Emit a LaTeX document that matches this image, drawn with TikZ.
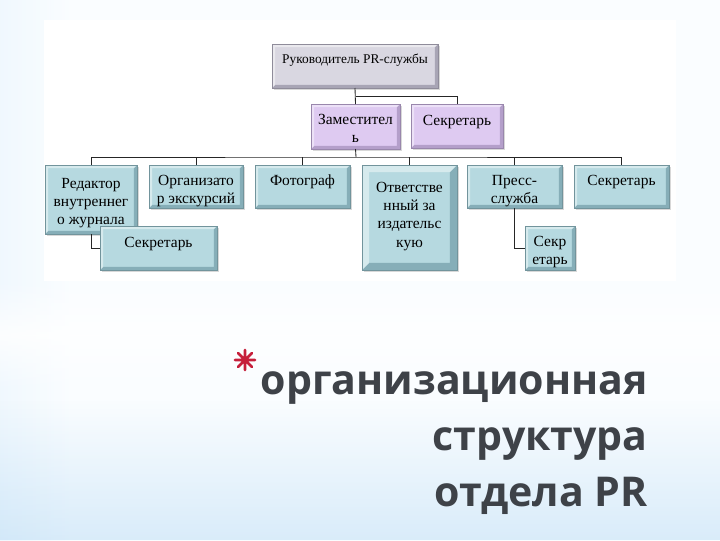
\documentclass[tikz,border=0pt]{standalone}
\usepackage{fontspec}
\setmainfont{Liberation Serif}
\newfontfamily\titlefont{Open Sans}
\usetikzlibrary{positioning, shadows, fadings}

\definecolor{bgedge}{HTML}{9CCCF0}
\definecolor{bgsoft}{HTML}{D2E9F9}
\definecolor{bgmid}{HTML}{FAFDFF}
\definecolor{tealface}{HTML}{B6D9E0}
\definecolor{tealdark}{HTML}{86AEB8}
\definecolor{lilacface}{HTML}{DECAF1}
\definecolor{lilacdark}{HTML}{B49FCA}
\definecolor{greyface}{HTML}{D9D7E1}
\definecolor{greydark}{HTML}{A8A5B5}
\definecolor{titlegrey}{HTML}{3E4248}
\definecolor{starred}{HTML}{C61F3B}

\pgfdeclarehorizontalshading{bgshade}{100bp}{color(0bp)=(bgedge); color(10bp)=(bgsoft);
  color(30bp)=(bgmid); color(75bp)=(bgmid); color(92bp)=(bgsoft); color(100bp)=(bgedge)}
\tikzfading[name=fade band, top color=transparent!100, bottom color=transparent!100, middle color=transparent!0]
\tikzfading[name=fade up, top color=transparent!100, bottom color=transparent!0]

\newcommand{\boxfont}{\fontsize{11}{13}\selectfont}

\tikzset{
  bevel width/.store in=\bevw, bevel width=2.2pt,
  bevel color/.store in=\bevcol, bevel color=tealdark,
  boxsize/.style 2 args={minimum width=#1*0.025cm, minimum height=#2*0.025cm},
  orgbox/.style={anchor=north west, inner sep=0pt, outer sep=0pt, line width=.4pt,
    drop shadow={shadow xshift=1.2pt, shadow yshift=-1.2pt, opacity=.3},
    path picture={
      \fill[\bevcol] (path picture bounding box.south west) -- (path picture bounding box.south east)
        -- (path picture bounding box.north east) -- ([shift={(-\bevw,-\bevw)}]path picture bounding box.north east)
        -- ([shift={(-\bevw,\bevw)}]path picture bounding box.south east) -- ([shift={(\bevw,\bevw)}]path picture bounding box.south west) -- cycle;
      \fill[white, opacity=.45] (path picture bounding box.south west) -- (path picture bounding box.north west)
        -- (path picture bounding box.north east) -- ([shift={(-\bevw,-\bevw)}]path picture bounding box.north east)
        -- ([shift={(\bevw,-\bevw)}]path picture bounding box.north west) -- ([shift={(\bevw,\bevw)}]path picture bounding box.south west) -- cycle;
    }},
  tealbox/.style={orgbox, fill=tealface, draw=tealdark!85!black, bevel color=tealdark},
  lilacbox/.style={orgbox, fill=lilacface, draw=lilacdark!85!black, bevel color=lilacdark},
  greybox/.style={orgbox, fill=greyface, draw=greydark!85!black, bevel color=greydark},
  lbl/.style={anchor=north, yshift=-7pt, align=center, inner sep=0pt, font=\boxfont},
  link/.style={draw=black!85, line width=.6pt},
}

\begin{document}
\begin{tikzpicture}[x=0.025cm, y=-0.025cm]
  \useasboundingbox (0,0) rectangle (720,540);

  % фон
  \shade[shading=bgshade] (0,0) rectangle (720,540);
  \fill[bgedge, opacity=.35, path fading=fade up] (0,400) rectangle (720,540);
  \fill[white, opacity=.8, path fading=fade band] (0,280) rectangle (720,390);
  \fill[white] (44,20) rectangle (676,281);

  % уровень 1 и 2
  \node[greybox, boxsize={166}{44}, label={[lbl, font=\fontsize{9.5}{12}\selectfont]north:Руководитель PR-службы}] (head) at (272,44) {};
  \node[lilacbox, boxsize={89}{45}, label={[lbl]north:Заместител\\ь}] (zam) at (311,104) {};
  \node[lilacbox, boxsize={92}{44}, label={[lbl, yshift=-1pt]north:Секретарь}] (sec0) at (411,104) {};

  % уровень 3
  \node[tealbox, boxsize={92}{69}, label={[lbl, yshift=-2pt]north:Редактор\\внутреннег\\о журнала}] (red) at (45,165) {};
  \node[tealbox, boxsize={94}{43}, label={[lbl]north:Организато\\р экскурсий}] (org) at (149,165) {};
  \node[tealbox, boxsize={95}{43}, label={[lbl]north:Фотограф}] (foto) at (255,165) {};
  \node[tealbox, boxsize={95}{105}, bevel width=5pt, label={[lbl, yshift=-5pt]north:Ответстве\\нный за\\издательс\\кую}] (otv) at (362,165) {};
  \node[tealbox, boxsize={95}{43}, label={[lbl]north:Пресс-\\служба}] (press) at (467,165) {};
  \node[tealbox, boxsize={95}{43}, label={[lbl]north:Секретарь}] (sec1) at (574,165) {};

  % подчинённые
  \node[tealbox, boxsize={117}{44}, label={[lbl, yshift=-1pt]north:Секретарь}] (sec2) at (100,226) {};
  \node[tealbox, boxsize={50}{44}, label={[lbl]north:Секр\\етарь}] (sec3) at (525,226) {};

  % связи
  \coordinate (fork) at (356,96);
  \coordinate (bus) at (356,157);
  \draw[link] (head.south) -- (zam.north);
  \draw[link] (fork) -| (sec0.north);
  \draw[link] (zam.south) -- (bus);
  \draw[link] (red.north) |- (bus) -| (sec1.north);
  \draw[link] (org.north) -- (org.north |- bus);
  \draw[link] (foto.north) -- (foto.north |- bus);
  \draw[link] (otv.north) -- (otv.north |- bus);
  \draw[link] (press.north) -- (press.north |- bus);
  \draw[link] (red.south) |- (sec2.west);
  \draw[link] (press.south) |- (sec3.west);

  % звёздочка
  \draw[starred, line width=1.8pt, line cap=round]
    (235,360) -- (255,360) (245,350) -- (245,370)
    (238,353) -- (252,367) (238,367) -- (252,353);

  % заголовок
  \node[anchor=base east, align=right, text=titlegrey, inner sep=0pt,
        font=\titlefont\bfseries\fontsize{29.2}{39.7}\selectfont] (title) at (648,506)
    {организационная\\структура\\отдела PR};
\end{tikzpicture}
\end{document}
